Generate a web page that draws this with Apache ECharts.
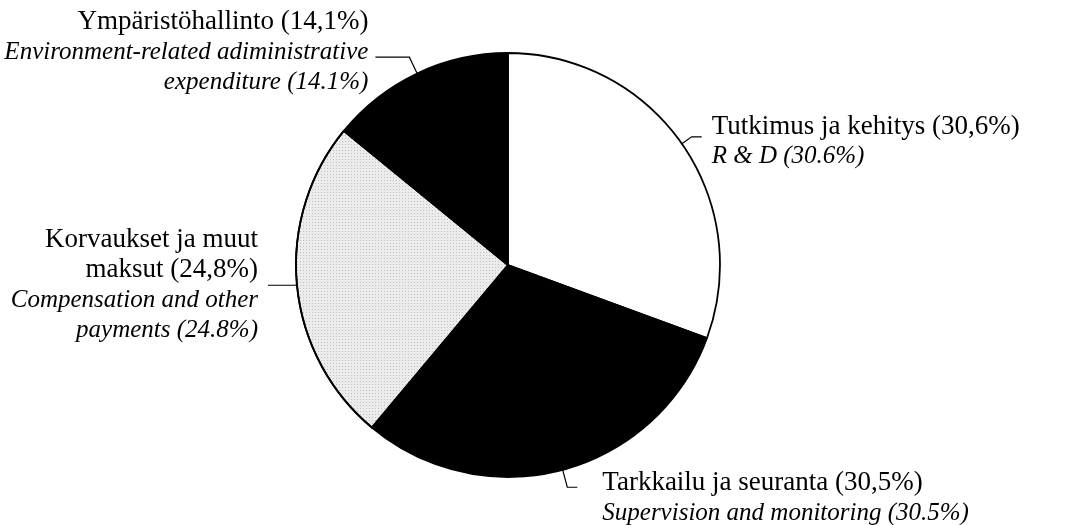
<!DOCTYPE html>
<html>
<head>
<meta charset="utf-8">
<script src="https://cdn.jsdelivr.net/npm/echarts@6/dist/echarts.min.js"></script>
<style>
html,body{margin:0;padding:0;background:#fff;}
#c{width:1073px;height:525px;}
</style>
</head>
<body>
<div id="c"></div>
<script>
// Data
const fiNames = ['Tutkimus ja kehitys', 'Tarkkailu ja seuranta', 'Korvaukset ja muut\nmaksut', 'Ympäristöhallinto'];
const enNames = ['R & D', 'Supervision and monitoring', 'Compensation and other\npayments', 'Environment-related adiministrative\nexpenditure'];
const values = [30.6, 30.5, 24.8, 14.1];

// Styling per slice
const fills = ['#ffffff', '#000000', '#ececec', '#000000'];
const lineLen = [12, 18, 3, 18];
const lineLen2 = [10, 10, 26, 34];
const labelDist = [10, 25, 10, 7];
const labelPad = [[10, 0, 0, 0], [22, 0, 0, 0], [0, 0, 0, 0], [0, 0, 10, 0]];

function wrap(style, text) {
  return text.split('\n').map(function (t) { return '{' + style + '|' + t + '}'; }).join('\n');
}

const data = values.map(function (v, i) {
  const fiPct = ' (' + v.toFixed(1).replace('.', ',') + '%)';
  const enPct = ' (' + v.toFixed(1) + '%)';
  const item = {
    name: fiNames[i].replace('\n', ' '),
    value: v,
    itemStyle: { color: fills[i] },
    label: {
      formatter: wrap('a', fiNames[i] + fiPct) + '\n' + wrap('b', enNames[i] + enPct),
      distanceToLabelLine: labelDist[i],
      padding: labelPad[i]
    },
    labelLine: { length: lineLen[i], length2: lineLen2[i] }
  };
  if (i === 2) {
    item.itemStyle.decal = {
      symbol: 'rect',
      symbolSize: 1,
      color: 'rgba(0,0,0,0.18)',
      dashArrayX: [1, 2],
      dashArrayY: [1, 2],
      rotation: 0
    };
  }
  return item;
});

const chart = echarts.init(document.getElementById('c'), null, { renderer: 'canvas' });
chart.setOption({
  backgroundColor: '#ffffff',
  animation: false,
  series: [{
    type: 'pie',
    center: [508, 265],
    radius: 212,
    startAngle: 90,
    clockwise: true,
    avoidLabelOverlap: false,
    itemStyle: { borderColor: '#000', borderWidth: 1.8 },
    emphasis: { disabled: true },
    label: {
      show: true,
      position: 'outside',
      color: '#000',
      rich: {
        a: { fontFamily: 'Liberation Serif', fontSize: 27, lineHeight: 30, color: '#000' },
        b: { fontFamily: 'Liberation Serif', fontStyle: 'italic', fontSize: 25, lineHeight: 30, color: '#000' }
      }
    },
    labelLine: { show: true, lineStyle: { color: '#000', width: 1.2 } },
    data: data
  }]
});
</script>
</body>
</html>
